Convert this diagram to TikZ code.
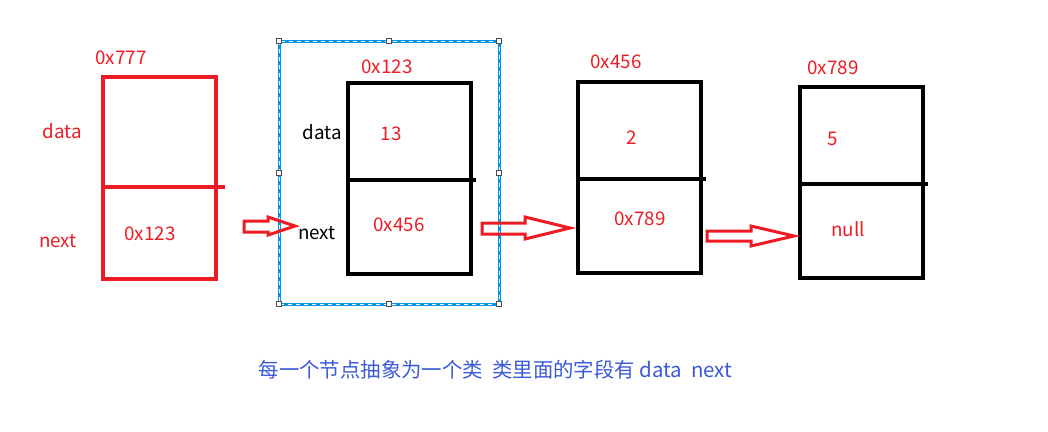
\documentclass[tikz,border=0pt]{standalone}
\usepackage{fontspec}
\setmainfont{Noto Sans CJK SC}
\definecolor{pred}{RGB}{237,28,36}
\definecolor{selblue}{RGB}{0,150,230}
\definecolor{txtblue}{RGB}{59,89,214}
\tikzset{
  cellbox/.style={draw, line width=3.2pt, inner sep=0pt, minimum width=123pt, minimum height=191pt},
  lbl/.style={font=\fontsize{18.8}{20}\selectfont, inner sep=0pt},
  redlbl/.style={lbl, text=pred},
  blocka/.style={draw=pred, line width=3pt, line join=miter},
  handle/.style={draw=black!70, fill=white, line width=0.7pt, minimum size=5pt, inner sep=0pt}
}
\begin{document}
\begin{tikzpicture}[x=1pt,y=-1pt]
\useasboundingbox (0,0) rectangle (1048,431);
% selection box
\draw[selblue, line width=3pt] (279,41) rectangle (499,304);
\draw[white, line width=0.9pt, dash pattern=on 4pt off 4pt] (279,41) rectangle (499,304);
\foreach \p in {(279,41),(389,41),(499,41),(279,173),(499,173),(279,304),(389,304),(499,304)}
  \node[handle] at \p {};
% node 1 (red)
\node[cellbox, draw=pred, minimum width=113pt, minimum height=202pt] (b1) at (159.5,178) {};
\draw[pred, line width=3.2pt] (103,187) -- (225,187);
\node[redlbl] (a1) at (121,58) {0x777};
\node[redlbl] (d1) at (62,131) {data};
\node[redlbl] (n1) at (58,241) {next};
\node[redlbl] (v1) at (150,234) {0x123};
% node 2
\node[cellbox] (b2) at (409.5,178.5) {};
\draw[line width=3.2pt] (348,180) -- (476,180);
\node[redlbl] (a2) at (387,67) {0x123};
\node[lbl] (d2) at (322,132) {data};
\node[lbl] (n2) at (317,233) {next};
\node[redlbl] (v2a) at (391,134) {13};
\node[redlbl] (v2b) at (399,225) {0x456};
% node 3
\node[cellbox] (b3) at (639.5,177.5) {};
\draw[line width=3.2pt] (578,179) -- (706,179);
\node[redlbl] (a3) at (616,62) {0x456};
\node[redlbl] (v3a) at (632,138) {2};
\node[redlbl] (v3b) at (640,219) {0x789};
% node 4
\node[cellbox] (b4) at (861.5,182.5) {};
\draw[line width=3.2pt] (800,184) -- (928,184);
\node[redlbl] (a4) at (833,68) {0x789};
\node[redlbl] (v4a) at (833,139) {5};
\node[redlbl] (v4b) at (848,229) {null};
% block arrows
\draw[blocka] (244,221) -- (268,221) -- (268,217) -- (295,226) -- (268,235) -- (268,232) -- (244,232) -- cycle;
\draw[blocka] (482,223) -- (525,223) -- (525,217) -- (570,228) -- (525,239) -- (525,234) -- (482,234) -- cycle;
\draw[blocka] (707,231) -- (751,231) -- (751,226) -- (794,236) -- (751,246) -- (751,241) -- (707,241) -- cycle;
% caption
\node[font=\fontsize{20.4}{22}\selectfont, text=txtblue, inner sep=0pt] (cap) at (495.5,370) {每一个节点抽象为一个类\ \ 类里面的字段有 data\ \ next};
\end{tikzpicture}
\end{document}
